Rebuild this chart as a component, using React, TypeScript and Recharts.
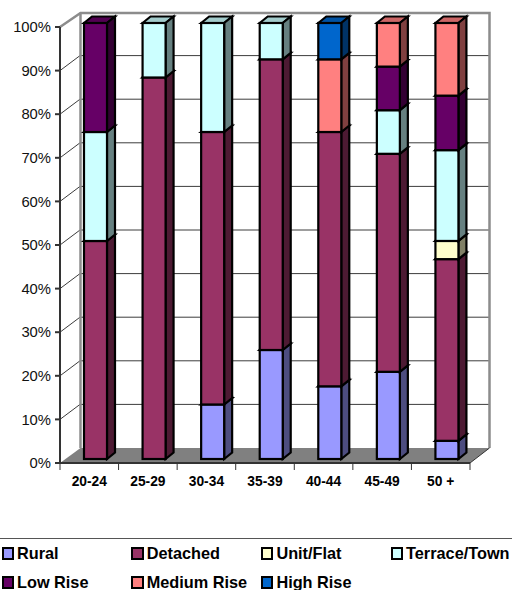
import { Bar, BarChart, CartesianGrid, Legend, XAxis, YAxis } from "recharts";

const categories = ["20-24", "25-29", "30-34", "35-39", "40-44", "45-49", "50 +"];
const rural = [0, 0, 12.5, 25, 16.67, 20, 4.17];
const detached = [50, 87.5, 62.5, 66.67, 58.33, 50, 41.67];
const unitFlat = [0, 0, 0, 0, 0, 0, 4.17];
const terraceTown = [25, 12.5, 25, 8.33, 0, 10, 20.83];
const lowRise = [25, 0, 0, 0, 0, 10, 12.5];
const mediumRise = [0, 0, 0, 0, 16.67, 10, 16.66];
const highRise = [0, 0, 0, 0, 8.33, 0, 0];
const yTicks = [0, 10, 20, 30, 40, 50, 60, 70, 80, 90, 100];

const data = categories.map((age, i) => ({
  age,
  Rural: rural[i],
  Detached: detached[i],
  "Unit/Flat": unitFlat[i],
  "Terrace/Town": terraceTown[i],
  "Low Rise": lowRise[i],
  "Medium Rise": mediumRise[i],
  "High Rise": highRise[i],
}));

// front face, top face, side face
const SERIES: [string, string, string, string][] = [
  ["Rural", "#9999FF", "#7a7acc", "#4d4d80"],
  ["Detached", "#993366", "#7a2952", "#4d1a33"],
  ["Unit/Flat", "#FFFFCC", "#ccccA3", "#808066"],
  ["Terrace/Town", "#CCFFFF", "#a3cccc", "#668080"],
  ["Low Rise", "#660066", "#520052", "#330033"],
  ["Medium Rise", "#FF8080", "#cc6666", "#804040"],
  ["High Rise", "#0066CC", "#0052a3", "#003366"],
];

const FONT = "'Liberation Sans', Arial, sans-serif";
const WIDTH = 512;
const HEIGHT = 590;
const LEFT = 60;
const TOP = 27;
const RIGHT = 470;
const BOTTOM = 463;
const BAND = (RIGHT - LEFT) / categories.length;
// how far the back wall sits behind the axis plane
const WALL_DX = 20;
const WALL_DY = 15;
// bars stand part way back on the floor
const BAR_DX = 6;
const BAR_DY = -4;
const SIDE_DX = 8;
const SIDE_DY = 6.5;

const shades = Object.fromEntries(SERIES.map(([name, , top, side]) => [name, { top, side }]));

function Block(props: any) {
  const { x, y, width, height, fill, dataKey } = props;
  if (!height || height <= 0) return null;
  const l = x + BAR_DX;
  const t = y + BAR_DY;
  const r = l + width;
  const b = t + height;
  const { top, side } = shades[dataKey];
  return (
    <g stroke="#000" strokeWidth={2.2} strokeLinejoin="miter">
      <polygon
        points={`${l},${t} ${l + SIDE_DX},${t - SIDE_DY} ${r + SIDE_DX},${t - SIDE_DY} ${r},${t}`}
        fill={top}
      />
      <polygon
        points={`${r},${t} ${r + SIDE_DX},${t - SIDE_DY} ${r + SIDE_DX},${b - SIDE_DY} ${r},${b}`}
        fill={side}
      />
      <rect x={l} y={t} width={width} height={height} fill={fill} />
    </g>
  );
}

function Walls() {
  const backLeft = LEFT + WALL_DX + 0.5;
  const backRight = RIGHT + WALL_DX - 0.5;
  const backTop = TOP - WALL_DY + 1;
  const backBottom = BOTTOM - WALL_DY;
  return (
    <g>
      <polygon
        points={`${LEFT},${BOTTOM} ${backLeft},${backBottom} ${backRight},${backBottom} ${RIGHT},${BOTTOM}`}
        fill="#808080"
      />
      <polyline
        points={`${LEFT},${TOP} ${backLeft},${backTop} ${backRight},${backTop} ${backRight},${backBottom}`}
        fill="none"
        stroke="#8c8c8c"
        strokeWidth={2.5}
      />
      <line x1={backLeft} y1={backTop} x2={backLeft} y2={backBottom} stroke="#8c8c8c" strokeWidth={2.5} />
      <line x1={RIGHT} y1={BOTTOM} x2={backRight} y2={backBottom} stroke="#333" strokeWidth={1} />
    </g>
  );
}

// gridline folded along the side wall and across the back wall
function GridLine(props: any) {
  const { y1, x1, x2, key } = props;
  if (y1 <= TOP + 1 || y1 >= BOTTOM - 1) return <g key={key} />;
  return (
    <polyline
      key={key}
      points={`${x1},${y1} ${x1 + WALL_DX},${y1 - WALL_DY} ${x2 + WALL_DX},${y1 - WALL_DY}`}
      fill="none"
      stroke="#3c3c3c"
      strokeWidth={1}
    />
  );
}

function AgeTick(props: any) {
  const { x, y, payload, index } = props;
  return (
    <g>
      {index === 0 && <line x1={x - BAND / 2} y1={BOTTOM} x2={x - BAND / 2} y2={BOTTOM + 7} stroke="#333" />}
      <line x1={x + BAND / 2} y1={BOTTOM} x2={x + BAND / 2} y2={BOTTOM + 7} stroke="#333" />
      <text x={x} y={y} dy={17} textAnchor="middle" fontFamily={FONT} fontWeight="bold" fontSize={13.8} fill="#000">
        {payload.value}
      </text>
    </g>
  );
}

function LegendBox({ payload }: any) {
  return (
    <div
      style={{
        width: WIDTH,
        height: 51,
        borderTop: "1px solid #555",
        display: "grid",
        gridTemplateColumns: "repeat(4, 129.7px)",
        gridAutoRows: 29,
        paddingLeft: 1.5,
        fontFamily: FONT,
        fontWeight: "bold",
        fontSize: 16.3,
        color: "#000",
        boxSizing: "border-box",
      }}
    >
      {(payload ?? []).map((entry: any) => (
        <div key={entry.value} style={{ display: "flex", alignItems: "center", whiteSpace: "nowrap" }}>
          <span
            style={{
              width: 8.5,
              height: 8.5,
              border: "2px solid #000",
              background: entry.color,
              marginRight: 3,
              flexShrink: 0,
            }}
          />
          {entry.value}
        </div>
      ))}
    </div>
  );
}

export default function App() {
  return (
    <div style={{ position: "absolute", left: 0, top: 0, width: WIDTH, height: HEIGHT, background: "#fff" }}>
      <BarChart
        width={WIDTH}
        height={HEIGHT}
        data={data}
        barSize={23}
        margin={{ top: TOP, right: WIDTH - RIGHT, bottom: 0, left: 0 }}
      >
        <Walls />
        <CartesianGrid vertical={false} horizontal={GridLine} />
        <XAxis
          dataKey="age"
          height={HEIGHT - BOTTOM}
          interval={0}
          tick={AgeTick}
          tickLine={false}
          tickMargin={0}
          stroke="#333"
          strokeWidth={2}
        />
        <YAxis
          width={LEFT}
          domain={[0, 100]}
          ticks={yTicks}
          interval={0}
          tickFormatter={(v: number) => `${v}%`}
          tick={{ fontFamily: FONT, fontSize: 14.8, fill: "#111" }}
          tickSize={5}
          tickMargin={4}
          stroke="#333"
          strokeWidth={2}
        />
        {SERIES.map(([name, fill]) => (
          <Bar key={name} dataKey={name} stackId="a" fill={fill} shape={Block} isAnimationActive={false} />
        ))}
        <Legend
          layout="horizontal"
          verticalAlign="middle"
          align="center"
          itemSorter={null}
          content={LegendBox}
          wrapperStyle={{ left: 0, top: 538, width: WIDTH, margin: 0 }}
        />
      </BarChart>
    </div>
  );
}
